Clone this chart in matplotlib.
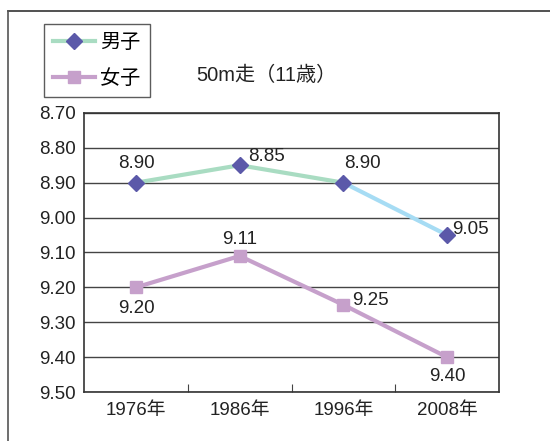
import matplotlib.pyplot as plt
from matplotlib.lines import Line2D

plt.rcParams['font.family'] = ['Liberation Sans', 'Noto Sans CJK JP']

years = ['1976年', '1986年', '1996年', '2008年']
boys = [8.90, 8.85, 8.90, 9.05]
girls = [9.20, 9.11, 9.25, 9.40]
yticks = [8.70, 8.80, 8.90, 9.00, 9.10, 9.20, 9.30, 9.40, 9.50]

green = '#a9dcc2'
blue_seg = '#a6dcf4'
diamond = '#5b59a9'
pink = '#c6a0cb'
grid_c = '#444444'
txt = '#222222'
fs = 13.5

fig = plt.figure(figsize=(5.5, 4.41), dpi=100)
ax = fig.add_axes([0.153, 0.111, 0.754, 0.633])

xs = [i + 0.5 for i in range(len(years))]

# boys: green segments, last segment light blue
ax.plot(xs[:3], boys[:3], color=green, lw=3, zorder=2)
ax.plot(xs[2:], boys[2:], color=blue_seg, lw=3, zorder=2)
ax.plot(xs, boys, ls='none', marker='D', ms=8.5, color=diamond, zorder=3)

ax.plot(xs, girls, color=pink, lw=3, marker='s', ms=9, zorder=3)

# value labels
boy_off = [(0, 14, 'center'), (6, 6, 'left'), (14, 14, 'center'), (4, 4, 'left')]
girl_off = [(0, -15, 'center'), (0, 12, 'center'), (6, 3, 'left'), (0, -14, 'center')]
for x, v, (dx, dy, ha) in zip(xs, boys, boy_off):
    ax.annotate(f'{v:.2f}', (x, v), xytext=(dx, dy), textcoords='offset points',
                ha=ha, va='center', fontsize=fs, color=txt)
for x, v, (dx, dy, ha) in zip(xs, girls, girl_off):
    ax.annotate(f'{v:.2f}', (x, v), xytext=(dx, dy), textcoords='offset points',
                ha=ha, va='center', fontsize=fs, color=txt)

ax.set_xlim(0, 4)
ax.set_ylim(9.50, 8.70)
ax.set_yticks(yticks)
ax.set_yticklabels([f'{t:.2f}' for t in yticks], fontsize=fs, color=txt)
ax.tick_params(axis='y', length=0, pad=6)
for t in yticks:
    ax.axhline(t, color=grid_c, lw=1, zorder=1)

ax.set_xticks([1, 2, 3])
ax.set_xticklabels([])
ax.tick_params(axis='x', direction='in', length=6, color=grid_c)
for x, lab in zip(xs, years):
    ax.text(x, -0.065, lab, transform=ax.get_xaxis_transform(), ha='center',
            va='center', fontsize=fs, color=txt)

for s in ax.spines.values():
    s.set_color('#333333')
    s.set_linewidth(1.2)

# outer frame (top and left edges)
fig.add_artist(Line2D([8 / 550, 1.0], [1 - 11 / 441] * 2, color='#333333', lw=1.2))
fig.add_artist(Line2D([8 / 550] * 2, [0, 1 - 11 / 441], color='#555555', lw=1.2))

handles = [
    Line2D([], [], color=green, lw=3, marker='D', ms=8.5, mfc=diamond, mec=diamond),
    Line2D([], [], color=pink, lw=3, marker='s', ms=9),
]
leg = fig.legend(handles, ['男子', '女子'], loc='upper left',
                 bbox_to_anchor=(44 / 550, 1 - 24 / 441), frameon=True,
                 fancybox=False, fontsize=14.5, handlelength=2.1,
                 borderpad=0.45, labelspacing=0.85, handletextpad=0.25,
                 borderaxespad=0)
leg.get_frame().set_edgecolor('#333333')
leg.get_frame().set_linewidth(1.0)

fig.text(266 / 550, 1 - 75 / 441, '50m走（11歳）', ha='center', va='center',
         fontsize=14.5, color=txt)

fig.savefig('out.png', dpi=100)
